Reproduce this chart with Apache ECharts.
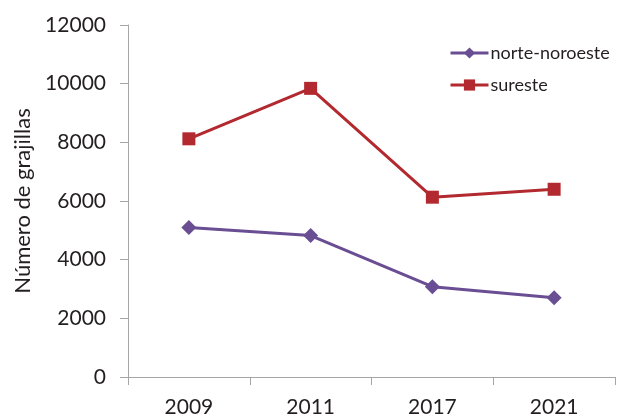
<!DOCTYPE html>
<html>
<head>
<meta charset="utf-8">
<script src="https://cdn.jsdelivr.net/npm/echarts@6/dist/echarts.min.js"></script>
<style>
  html, body { margin: 0; padding: 0; background: #fff; }
  #chart { width: 630px; height: 420px; }
</style>
</head>
<body>
<div id="chart"></div>
<script>
// Years on the x axis
var years = ['2009', '2011', '2017', '2021'];

// Number of grajillas per zone
var norteNoroeste = [5100, 4820, 3080, 2700];
var sureste = [8120, 9840, 6130, 6400];

var fontName = 'Lato';

var myChart = echarts.init(document.getElementById('chart'));

var option = {
  animation: false,
  textStyle: { fontFamily: fontName },
  legend: {
    orient: 'vertical',
    left: 444,
    top: 39,
    itemGap: 14,
    itemWidth: 38,
    itemHeight: 14,
    lineStyle: { width: 3 },
    textStyle: { fontSize: 18, color: '#231f20', fontFamily: fontName, padding: [0, 0, 0, -3] },
    data: ['norte-noroeste', 'sureste']
  },
  grid: {
    left: 128,
    right: 15,
    top: 25,
    bottom: 43
  },
  xAxis: {
    type: 'category',
    data: years,
    boundaryGap: true,
    axisLine: { lineStyle: { color: '#a6a6a6', width: 1 } },
    axisTick: { show: true, length: 8, inside: false, lineStyle: { color: '#a6a6a6' } },
    axisLabel: { fontSize: 21, color: '#231f20', margin: 20 }
  },
  yAxis: {
    type: 'value',
    min: 0,
    max: 12000,
    interval: 2000,
    name: 'Número de grajillas',
    nameLocation: 'middle',
    nameGap: 92,
    nameTextStyle: { fontSize: 22, color: '#231f20' },
    axisLine: { show: true, lineStyle: { color: '#a6a6a6', width: 1 } },
    axisTick: { show: true, length: 8, lineStyle: { color: '#a6a6a6' } },
    axisLabel: { fontSize: 21, color: '#231f20', margin: 22, formatter: function (v) { return String(v); } },
    splitLine: { show: false }
  },
  series: [
    {
      name: 'norte-noroeste',
      type: 'line',
      data: norteNoroeste,
      symbol: 'diamond',
      symbolSize: 15,
      color: '#6a4e93',
      lineStyle: { width: 3 }
    },
    {
      name: 'sureste',
      type: 'line',
      data: sureste,
      symbol: 'rect',
      symbolSize: 13,
      color: '#b22a2f',
      lineStyle: { width: 3 }
    }
  ]
};

myChart.setOption(option);
</script>
</body>
</html>
